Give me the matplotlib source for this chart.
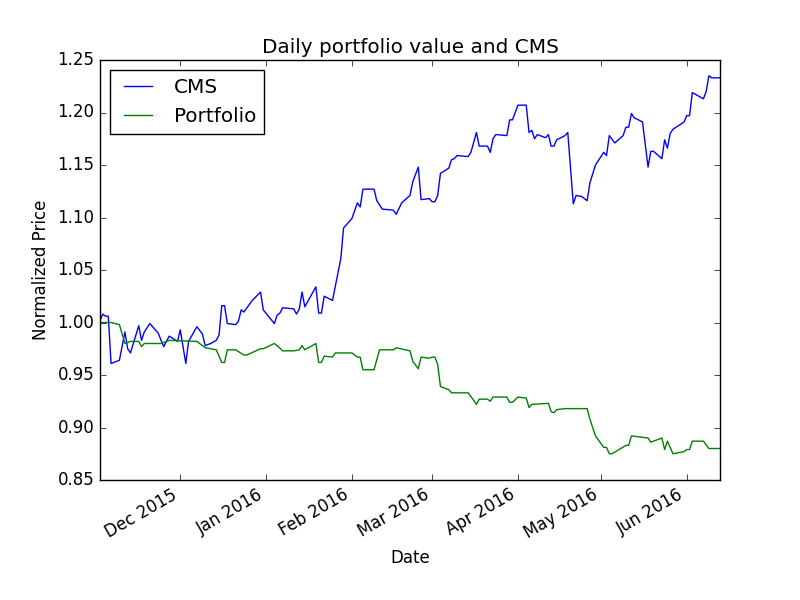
import matplotlib
matplotlib.use("Agg")
import matplotlib.pyplot as plt
import matplotlib.dates as mdates
from matplotlib.ticker import FormatStrFormatter
import pandas as pd

start = pd.Timestamp("2015-11-02")

# day offsets from start
cms_days = [0, 1, 2, 3, 4, 7, 9, 10, 11, 14, 15, 16, 18, 21, 23, 25, 28, 29, 31, 32,
            35, 37, 38, 40, 42, 43, 44, 45, 46, 49, 50, 51, 52, 55, 58, 59, 63, 64, 65, 66,
            70, 71, 72, 73, 74, 78, 79, 80, 81, 84, 87, 88, 91, 93, 94, 95, 99, 100, 102, 106,
            107, 109, 112, 113, 115, 116, 119, 120, 121, 122, 123, 126, 127, 128, 129, 133, 134,
            136, 137, 140, 141, 142, 143, 147, 148, 149, 151, 154, 155, 156, 157, 158, 161, 162,
            163, 164, 165, 168, 169, 171, 172, 174, 176, 177, 179, 182, 183, 184, 186, 189, 190,
            191, 192, 193, 196, 198, 199, 200, 203, 204, 205, 206, 207, 211, 212, 213, 214, 218,
            219, 220, 221, 224]
cms_vals = [1.002, 1.008, 1.006, 1.006, 0.961, 0.964, 0.991, 0.975, 0.971, 0.997, 0.983, 0.991,
            0.999, 0.990, 0.977, 0.987, 0.982, 0.993, 0.961, 0.982, 0.996, 0.989, 0.978, 0.980,
            0.983, 0.988, 1.016, 1.016, 0.999, 0.998, 1.001, 1.012, 1.010, 1.021, 1.029, 1.012,
            0.999, 1.007, 1.009, 1.014, 1.013, 1.008, 1.013, 1.029, 1.015, 1.034, 1.009, 1.009,
            1.025, 1.021, 1.061, 1.090, 1.099, 1.114, 1.110, 1.127, 1.127, 1.116, 1.108, 1.107,
            1.103, 1.114, 1.121, 1.134, 1.148, 1.117, 1.118, 1.115, 1.115, 1.121, 1.142, 1.147,
            1.155, 1.156, 1.159, 1.158, 1.162, 1.181, 1.168, 1.168, 1.162, 1.175, 1.179, 1.178,
            1.193, 1.193, 1.207, 1.207, 1.181, 1.183, 1.175, 1.179, 1.176, 1.179, 1.168, 1.168,
            1.174, 1.178, 1.181, 1.113, 1.121, 1.120, 1.116, 1.133, 1.150, 1.162, 1.159, 1.178,
            1.171, 1.178, 1.186, 1.186, 1.199, 1.195, 1.191, 1.148, 1.163, 1.163, 1.156, 1.174,
            1.166, 1.180, 1.184, 1.191, 1.197, 1.197, 1.219, 1.213, 1.220, 1.235, 1.233, 1.233]

port_days = [0, 4, 7, 9, 11, 14, 15, 16, 22, 25, 35, 36, 38, 42, 44, 45, 46, 49, 52, 53,
             58, 59, 63, 64, 66, 70, 72, 73, 74, 78, 79, 80, 81, 84, 85, 91, 93, 94, 95, 99,
             101, 106, 107, 112, 113, 115, 116, 119, 120, 121, 122, 123, 126, 127, 129, 133, 135,
             136, 137, 140, 141, 142, 147, 148, 149, 151, 154, 155, 156, 162, 163, 164, 165, 168,
             176, 177, 179, 182, 183, 184, 185, 190, 191, 192, 198, 199, 203, 204, 205, 207, 211,
             212, 213, 214, 218, 220, 224]
port_vals = [1.000, 1.000, 0.998, 0.980, 0.982, 0.982, 0.977, 0.980, 0.980, 0.983, 0.982, 0.980,
             0.976, 0.974, 0.962, 0.962, 0.974, 0.974, 0.969, 0.969, 0.975, 0.975, 0.980, 0.978,
             0.973, 0.973, 0.974, 0.978, 0.974, 0.980, 0.962, 0.962, 0.968, 0.967, 0.971, 0.971,
             0.967, 0.967, 0.955, 0.955, 0.974, 0.974, 0.976, 0.973, 0.963, 0.956, 0.967, 0.966,
             0.967, 0.967, 0.960, 0.939, 0.936, 0.933, 0.933, 0.933, 0.926, 0.922, 0.927, 0.927,
             0.925, 0.929, 0.929, 0.924, 0.924, 0.929, 0.928, 0.919, 0.922, 0.923, 0.915, 0.914,
             0.917, 0.918, 0.918, 0.908, 0.892, 0.881, 0.881, 0.875, 0.875, 0.883, 0.883, 0.892,
             0.890, 0.886, 0.890, 0.879, 0.887, 0.875, 0.877, 0.879, 0.879, 0.887, 0.887, 0.880,
             0.880]

plt.style.use("classic")
cms_dates = [start + pd.Timedelta(days=d) for d in cms_days]
port_dates = [start + pd.Timedelta(days=d) for d in port_days]

fig, ax = plt.subplots(figsize=(8, 6), dpi=100, facecolor="white")
ax.plot(cms_dates, cms_vals, color="b", label="CMS")
ax.plot(port_dates, port_vals, color="g", label="Portfolio")
ax.set_xlim(start, start + pd.Timedelta(days=224))
ax.set_ylim(0.85, 1.25)
ax.xaxis.set_major_locator(mdates.MonthLocator())
ax.xaxis.set_major_formatter(mdates.DateFormatter("%b %Y"))
ax.yaxis.set_major_formatter(FormatStrFormatter("%.2f"))
ax.set_title("Daily portfolio value and CMS")
ax.set_xlabel("Date")
ax.set_ylabel("Normalized Price")
ax.legend(loc="upper left")
fig.autofmt_xdate()
fig.subplots_adjust(left=0.125, right=0.9, top=0.9, bottom=0.2)
fig.savefig("out.png", facecolor="white")
